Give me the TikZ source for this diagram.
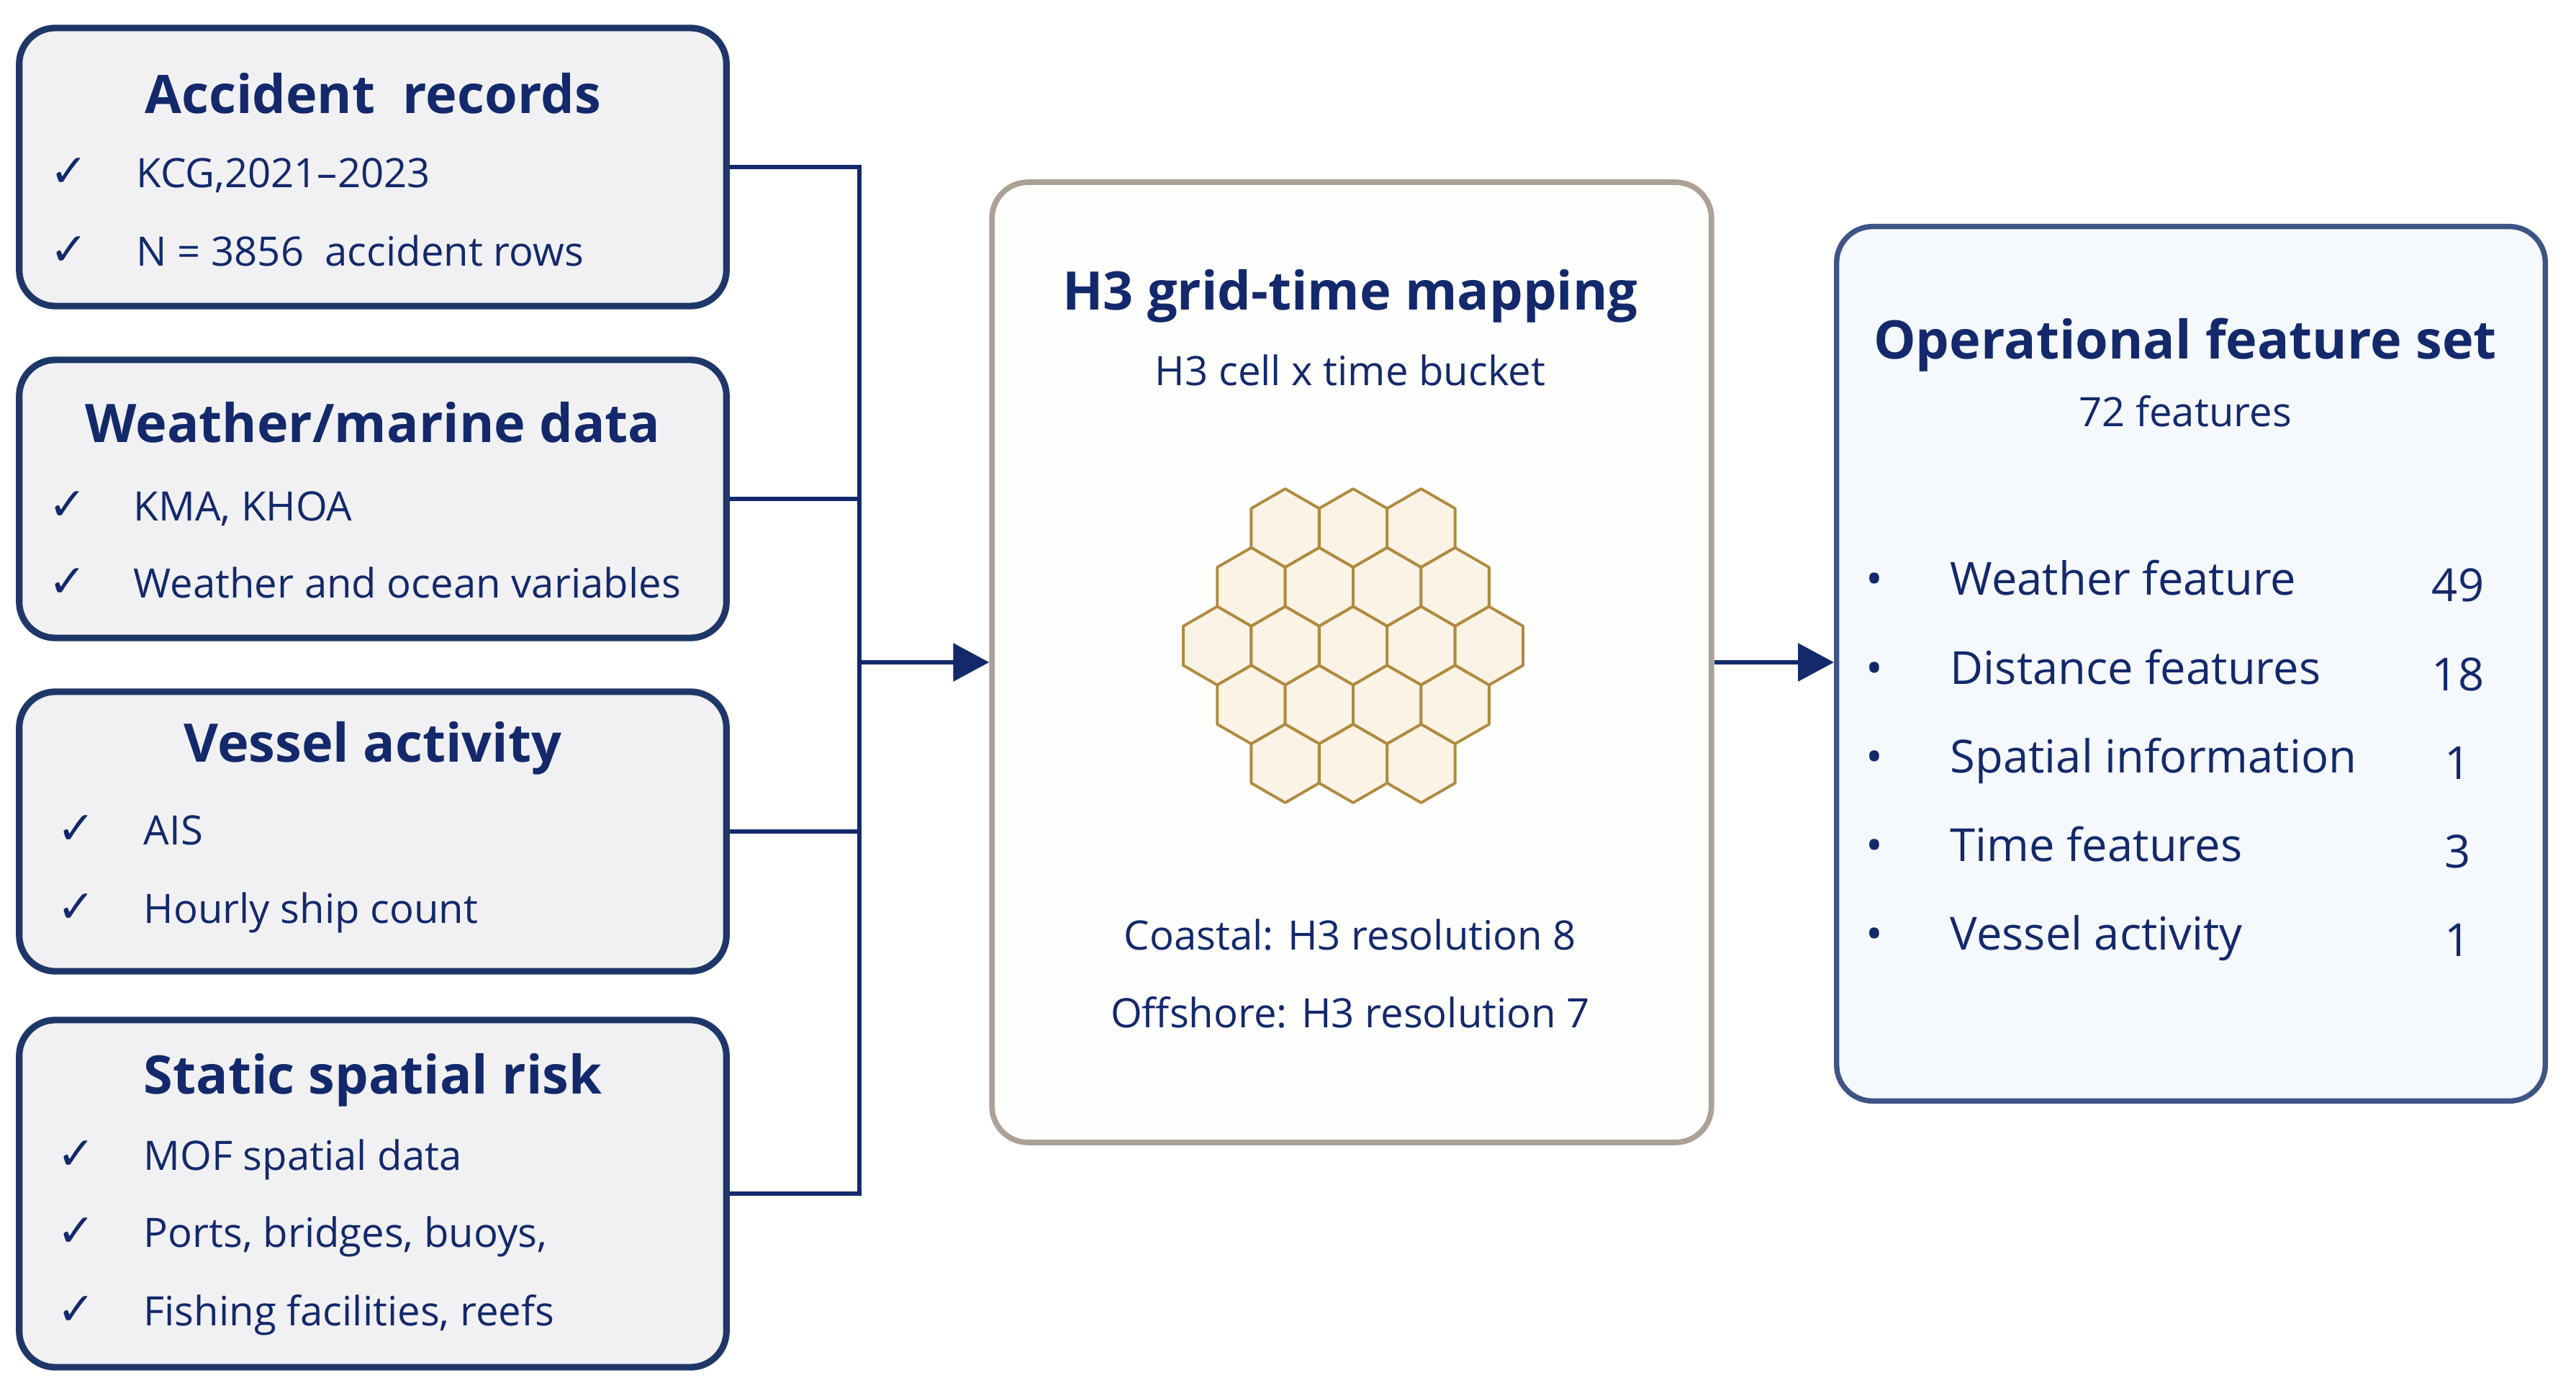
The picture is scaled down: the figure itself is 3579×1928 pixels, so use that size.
\documentclass[tikz,border=0pt]{standalone}
\usepackage{fontspec}
\setmainfont{Open Sans}
\newfontfamily\symfont{DejaVu Sans}
\usetikzlibrary{arrows.meta,positioning,calc}

\definecolor{navy}{HTML}{13296B}
\definecolor{srcline}{HTML}{1F3768}
\definecolor{srcfill}{HTML}{F1F1F3}
\definecolor{midline}{HTML}{ABA196}
\definecolor{midfill}{HTML}{FEFEFD}
\definecolor{featline}{HTML}{3D5585}
\definecolor{featfill}{HTML}{F5F8FC}
\definecolor{hexline}{HTML}{B08A40}
\definecolor{hexfill}{HTML}{FBF3E5}

\tikzset{
  srcbox/.style={draw=srcline, line width=2.6pt, fill=srcfill, rounded corners=0.5cm,
    minimum width=9.82cm, inner sep=0pt},
  midbox/.style={draw=midline, line width=2.2pt, fill=midfill, rounded corners=0.5cm, inner sep=0pt},
  featbox/.style={draw=featline, line width=2.1pt, fill=featfill, rounded corners=0.5cm, inner sep=0pt},
  boxtitle/.style={text=navy, inner sep=0pt, font=\fontsize{21}{25}\selectfont\bfseries},
  subtitle/.style={text=navy, inner sep=0pt, font=\fontsize{16}{19}\selectfont},
  item/.style={text=navy, anchor=west, inner sep=0pt, text height=0.72em, text depth=0.22em,
    yshift=-0.12cm, font=\fontsize{16}{19}\selectfont},
  featitem/.style={text=navy, inner sep=0pt, text height=0.72em, text depth=0.22em,
    yshift=-0.15cm, font=\fontsize{18}{22}\selectfont},
  tick/.style={text=navy, inner sep=0pt, font=\symfont\fontsize{18}{20}\selectfont},
  conn/.style={draw=navy, line width=1.8pt},
  arr/.style={conn, -{Triangle[length=0.5cm,width=0.52cm]}},
  hexcell/.style={draw=hexline, fill=hexfill, line width=1.1pt, line join=round}
}

\begin{document}
\begin{tikzpicture}[x=0.01cm, y=-0.01cm]
        %\draw [help lines] (0,0) grid (3579,1928);
        \fill[white] (0,0) rectangle (3579,1928);
        \useasboundingbox (0,0) rectangle (3579,1928);

        % sources
        \node [srcbox, minimum height=3.86cm] (acc) at (518,232) {};
        \node [srcbox, minimum height=3.86cm] (wx) at (518,693) {};
        \node [srcbox, minimum height=3.88cm] (ves) at (518,1155) {};
        \node [srcbox, minimum height=4.82cm] (stat) at (518,1658) {};

        \node [boxtitle] (acct) at (518,130) {Accident\ \ records};
        \node [tick] (acck1) at (96,240) {✓};
        \node [item] (acci1) at (189,240) {KCG,2021–2023};
        \node [tick] (acck2) at (96,349) {✓};
        \node [item] (acci2) at (189,349) {N = 3856\ \ accident rows};

        \node [boxtitle] (wxt) at (518,587) {Weather/marine data};
        \node [tick] (wxk1) at (94,703) {✓};
        \node [item] (wxi1) at (185,703) {KMA, KHOA};
        \node [tick] (wxk2) at (94,810) {✓};
        \node [item] (wxi2) at (185,810) {Weather and ocean variables};

        \node [boxtitle] (vest) at (518,1039) {Vessel activity};
        \node [tick] (vesk1) at (106,1153) {✓};
        \node [item] (vesi1) at (199,1153) {AIS};
        \node [tick] (vesk2) at (106,1262) {✓};
        \node [item] (vesi2) at (199,1262) {Hourly ship count};

        \node [boxtitle] (statt) at (518,1500) {Static spatial risk};
        \node [tick] (statk1) at (106,1605) {✓};
        \node [item] (stati1) at (199,1605) {MOF spatial data};
        \node [tick] (statk2) at (106,1712) {✓};
        \node [item] (stati2) at (199,1712) {Ports, bridges, buoys,};
        \node [tick] (statk3) at (106,1821) {✓};
        \node [item] (stati3) at (199,1821) {Fishing facilities, reefs};

        % mapping
        \node [midbox, minimum width=9.99cm, minimum height=13.33cm] (grid) at (1878,920) {};
        \node [boxtitle] (gridt) at (1876,411) {H3 grid-time mapping};
        \node [subtitle] (grids) at (1876,514) {H3 cell x time bucket};
        \node [subtitle] (coast) at (1876,1299) {Coastal: H3 resolution 8};
        \node [subtitle] (off) at (1876,1406) {Offshore: H3 resolution 7};

        \foreach \r/\n in {-2/3,-1/4,0/5,1/4,2/3}
          \foreach \k in {1,...,\n} {
            \pgfmathsetmacro\hx{1880+(\k-(\n+1)/2)*94.4}
            \pgfmathsetmacro\hy{897+\r*81.75}
            \draw [hexcell] (\hx,\hy) +(30:54.5) -- +(90:54.5) -- +(150:54.5)
              -- +(210:54.5) -- +(270:54.5) -- +(330:54.5) -- cycle;
          }

        % features
        \node [featbox, minimum width=9.84cm, minimum height=12.14cm] (feat) at (3044,922) {};
        \node [boxtitle] (featt) at (3036,479) {Operational feature set};
        \node [subtitle] (feats) at (3036,571) {72 features};

        \foreach \yy/\txt/\num [count=\i] in {803/Weather feature/49, 927/Distance features/18,
            1050/Spatial information/1, 1173/Time features/3, 1296/Vessel activity/1} {
          \node [featitem] (fb\i) at (2604,\yy) {•};
          \node [featitem, anchor=west] (ft\i) at (2709,\yy) {\txt};
          \node [featitem] (fn\i) at (3415,\yy+9) {\num};
        }

        % connectors
        \coordinate (bus) at (1194,920);
        \draw [conn] (acc.east) -| (bus);
        \draw [conn] (wx.east) -| (bus);
        \draw [conn] (ves.east) -| (bus);
        \draw [conn] (stat.east) -| (bus);
        \draw [arr] (bus) -- (grid.west);
        \draw [arr] (grid.east) -- (grid.east -| feat.west);
\end{tikzpicture}
\end{document}
